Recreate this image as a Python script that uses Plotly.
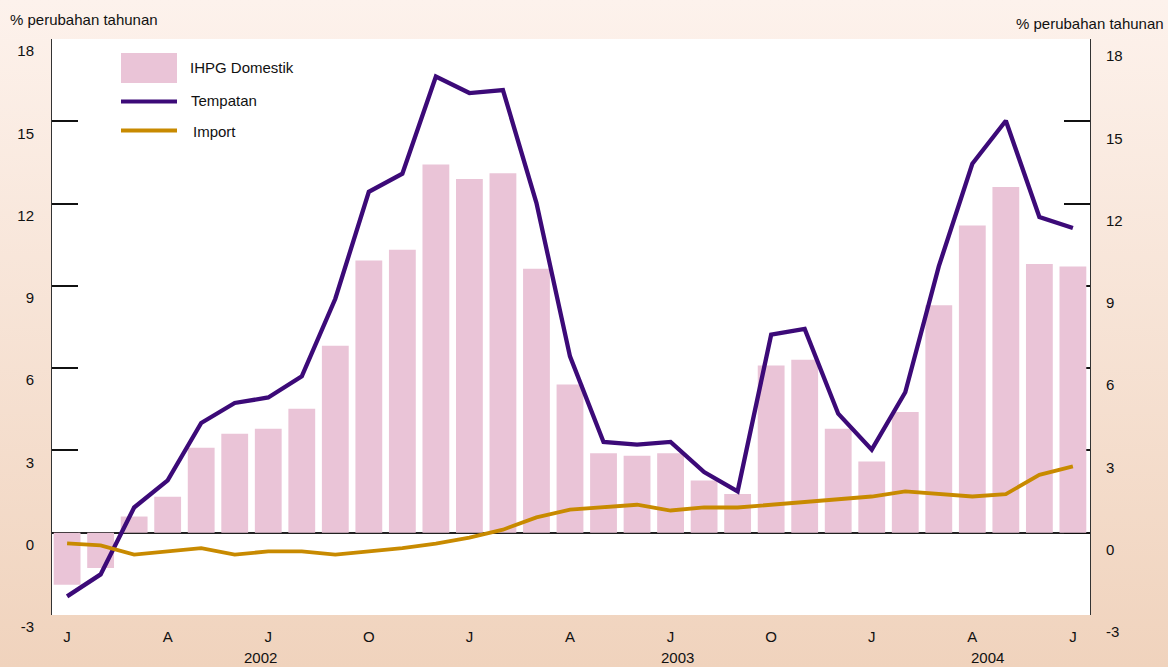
import base64
import plotly.graph_objects as go

W, H = 1168, 667
L, R, T, B = 52, 1090, 39, 615  # plot area in pixels

months = ["2002-01", "2002-02", "2002-03", "2002-04", "2002-05", "2002-06", "2002-07",
          "2002-08", "2002-09", "2002-10", "2002-11", "2002-12",
          "2003-01", "2003-02", "2003-03", "2003-04", "2003-05", "2003-06", "2003-07",
          "2003-08", "2003-09", "2003-10", "2003-11", "2003-12",
          "2004-01", "2004-02", "2004-03", "2004-04", "2004-05", "2004-06", "2004-07"]

ihpg_domestik = [-1.90, -1.29, 0.59, 1.31, 3.10, 3.61, 3.79, 4.52, 6.82, 9.92, 10.32, 13.42,
                 12.90, 13.11, 9.62, 5.40, 2.90, 2.81, 2.90, 1.90, 1.41, 6.10, 6.31, 3.79,
                 2.60, 4.40, 8.29, 11.20, 12.60, 9.80, 9.71]

tempatan = [-2.32, -1.52, 0.92, 1.91, 4.00, 4.73, 4.93, 5.70, 8.53, 12.43, 13.09, 16.63,
            16.03, 16.14, 12.02, 6.43, 3.31, 3.21, 3.31, 2.21, 1.51, 7.22, 7.43, 4.34,
            3.03, 5.12, 9.71, 13.45, 15.02, 11.51, 11.11]

import_ = [-0.39, -0.46, -0.80, -0.68, -0.56, -0.80, -0.68, -0.68, -0.80, -0.68, -0.56, -0.40,
           -0.18, 0.11, 0.56, 0.84, 0.92, 1.02, 0.81, 0.92, 0.92, 1.02, 1.12, 1.23,
           1.32, 1.51, 1.41, 1.32, 1.41, 2.11, 2.42]

month_ticks = list(range(0, 31, 3))
month_labels = ["J", "A", "J", "O", "J", "A", "J", "O", "J", "A", "J"]
year_labels = ["2002", "2003", "2004"]
year_pos = [5.76, 18.2, 27.46]
y_ticks = [-3, 0, 3, 6, 9, 12, 15, 18]
y_tick_labels = ["-3", "0", "3", "6", "9", "12", "15", "18"]

FONT = "Liberation Sans, Arial, Helvetica, sans-serif"
PINK = "#eac4d7"
PURPLE = "#3c0a78"
GOLD = "#c88a00"

x = list(range(len(months)))

def px(p):
    return (p - L) / (R - L)

def py(p):
    return (B - p) / (B - T)

fig = go.Figure()
fig.add_trace(go.Bar(x=x, y=ihpg_domestik, name="IHPG Domestik", marker=dict(color=PINK, line=dict(width=0)),
                     width=0.8, showlegend=False))
fig.add_trace(go.Scatter(x=x, y=tempatan, name="Tempatan", mode="lines",
                         line=dict(color=PURPLE, width=4.3), showlegend=False))
fig.add_trace(go.Scatter(x=x, y=import_, name="Import", mode="lines",
                         line=dict(color=GOLD, width=3.8), showlegend=False))
# carrier for the right-hand axis (draws nothing)
fig.add_trace(go.Scatter(x=x, y=ihpg_domestik, mode="none", yaxis="y2", showlegend=False,
                         hoverinfo="skip"))

svg = ("<svg xmlns='http://www.w3.org/2000/svg' width='%d' height='%d'>"
       "<defs><linearGradient id='g' x1='0' y1='0' x2='0' y2='1'>"
       "<stop offset='0' stop-color='#fdf2ec'/><stop offset='1' stop-color='#f0d3bd'/>"
       "</linearGradient></defs><rect width='%d' height='%d' fill='url(#g)'/></svg>") % (W, H, W, H)
uri = "data:image/svg+xml;base64," + base64.b64encode(svg.encode()).decode()

axis_common = dict(range=[-3, 18], tickvals=y_ticks, ticktext=y_tick_labels, ticks="inside",
                   ticklen=26, tickwidth=2,
                   tickcolor="#111", showline=True, linecolor="#333", linewidth=1,
                   showgrid=False, tickfont=dict(family=FONT, size=15, color="#111"),
                   layer="below traces", fixedrange=True)

fig.update_layout(
    width=W, height=H,
    margin=dict(l=L, r=W - R, t=T, b=H - B),
    paper_bgcolor="#f6e2d5", plot_bgcolor="white",
    bargap=0.2,
    font=dict(family=FONT, size=15, color="#111"),
    xaxis=dict(range=[-0.45, 30.51], tickvals=month_ticks, ticktext=month_labels, ticks="",
               showline=False, showgrid=False, zeroline=False, fixedrange=True,
               tickfont=dict(family=FONT, size=15, color="#111"), ticklabelstandoff=11),
    yaxis=dict(**axis_common, zeroline=True, zerolinecolor="#222", zerolinewidth=1.5,
               ticklabelstandoff=14, ticklabelshift=12),
    yaxis2=dict(**axis_common, overlaying="y", side="right", zeroline=False,
                ticklabelstandoff=12, ticklabelshift=17),
    images=[dict(source=uri, xref="paper", yref="paper", x=px(0), y=py(0),
                 sizex=W / (R - L), sizey=H / (B - T), xanchor="left", yanchor="top",
                 sizing="stretch", layer="below")],
)

ann = []
ann.append(dict(text="% perubahan tahunan", xref="paper", yref="paper", x=px(8), y=py(20),
                xanchor="left", yanchor="middle", showarrow=False, font=dict(size=15)))
ann.append(dict(text="% perubahan tahunan", xref="paper", yref="paper", x=px(1166), y=py(23),
                xanchor="right", yanchor="middle", showarrow=False, font=dict(size=15)))
for yl, xp in zip(year_labels, year_pos):
    ann.append(dict(text=yl, xref="x", yref="paper", x=xp, y=py(657), xanchor="center",
                    yanchor="middle", showarrow=False, font=dict(size=15)))
# legend
ann.append(dict(text="IHPG Domestik", xref="paper", yref="paper", x=px(188), y=py(67),
                xanchor="left", yanchor="middle", showarrow=False, font=dict(size=15)))
ann.append(dict(text="Tempatan", xref="paper", yref="paper", x=px(189), y=py(101),
                xanchor="left", yanchor="middle", showarrow=False, font=dict(size=15)))
ann.append(dict(text="Import", xref="paper", yref="paper", x=px(191), y=py(131),
                xanchor="left", yanchor="middle", showarrow=False, font=dict(size=15)))
fig.update_layout(annotations=ann)

shapes = [
    # white plot area above the gradient paper
    dict(type="rect", xref="paper", yref="paper", x0=0, x1=1, y0=0, y1=1,
         fillcolor="white", line=dict(width=0), layer="below"),
    dict(type="rect", xref="paper", yref="paper", x0=px(121), x1=px(177), y0=py(83), y1=py(53),
         fillcolor=PINK, line=dict(width=0)),
    dict(type="line", xref="paper", yref="paper", x0=px(121), x1=px(177), y0=py(101.5), y1=py(101.5),
         line=dict(color=PURPLE, width=4)),
    dict(type="line", xref="paper", yref="paper", x0=px(121), x1=px(177), y0=py(130.5), y1=py(130.5),
         line=dict(color=GOLD, width=4)),
]
fig.update_layout(shapes=shapes)

fig.write_html("out.html", config={"displayModeBar": False},
               post_script="document.body.style.margin='0';")
